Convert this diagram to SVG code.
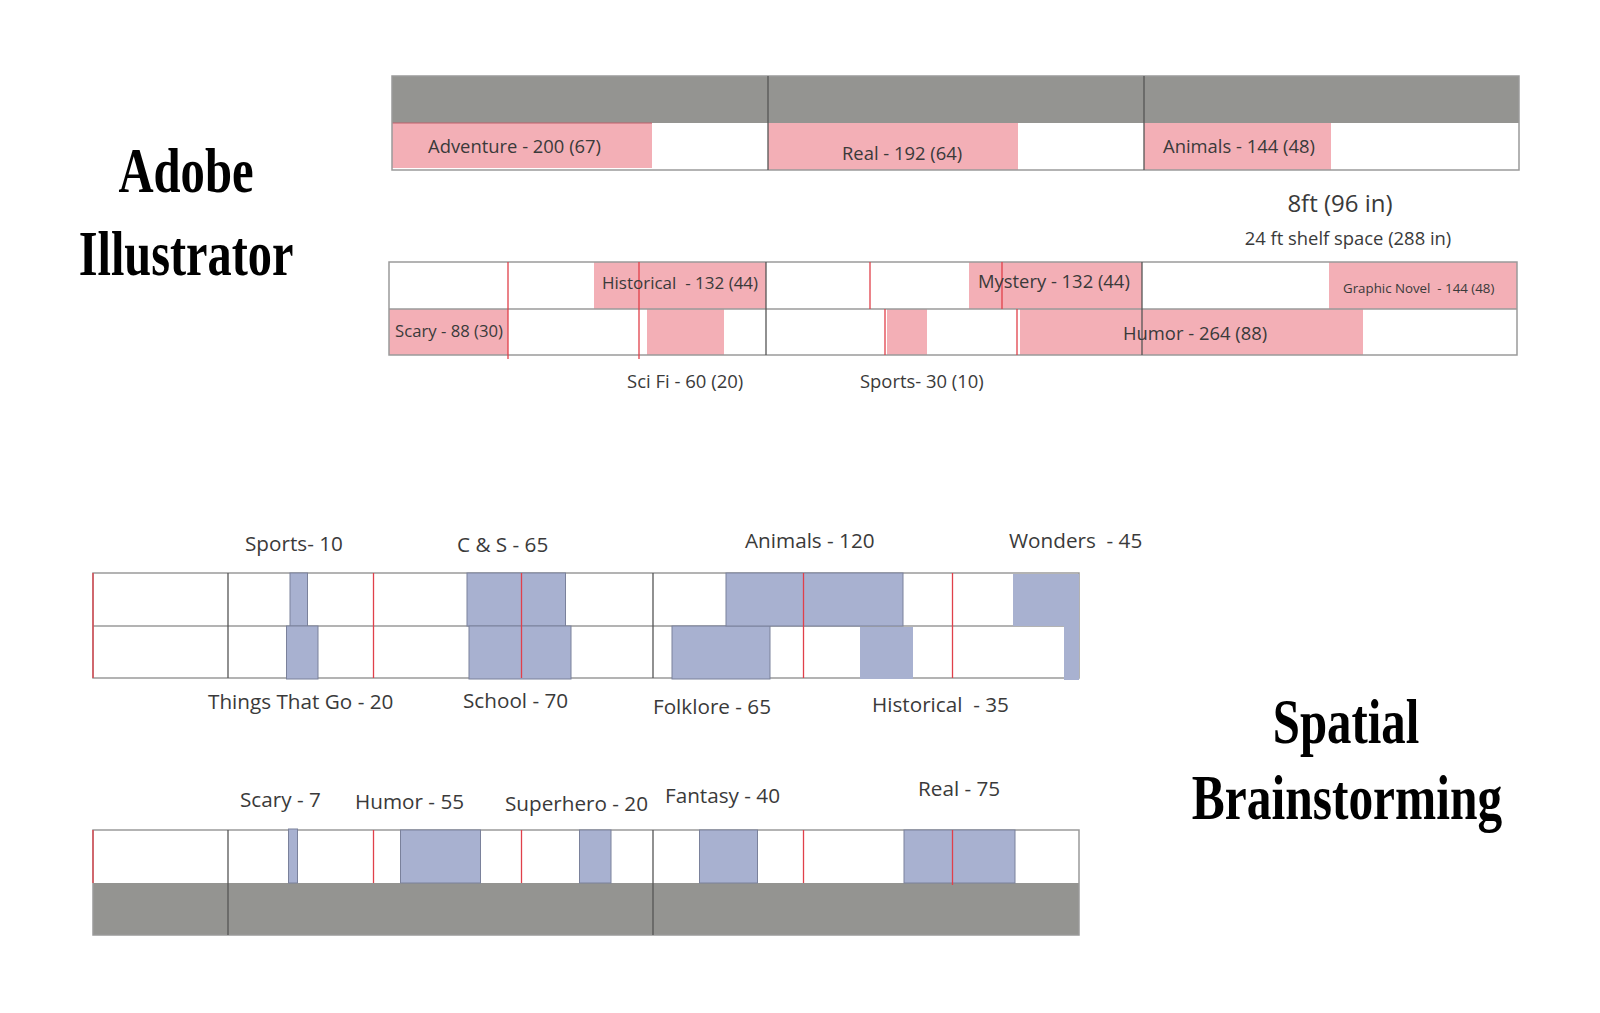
<svg xmlns="http://www.w3.org/2000/svg" width="1600" height="1013" viewBox="0 0 1600 1013">
<style>
.lbl{font-family:"Open Sans","Noto Sans",sans-serif;fill:#3a3a3a;white-space:pre}
.t18{font-size:18.4px}
.b21{font-size:20.7px}
.title{font-family:"Liberation Serif",serif;font-weight:bold;font-size:64px;fill:#000;text-anchor:middle}
.pink{fill:#f3afb6}
.blue{fill:#a8b1d0}
.blueS{fill:#a8b1d0;stroke:#7a819b;stroke-width:1}
.gray{fill:#949491}
.frame{fill:none;stroke:#9a9a9a;stroke-width:1.5}
.div{stroke:#555;stroke-width:1.3}
.red{stroke:#e0404a;stroke-width:1.3}
.hl{stroke:#9a9a9a;stroke-width:1.5}
</style>
<rect width="1600" height="1013" fill="#fff"/>

<g id="title-adobe">
<text class="title" transform="matrix(0.76 0 0 1 186 192)">Adobe</text>
<text class="title" transform="matrix(0.755 0 0 1 186 275)">Illustrator</text>
</g>
<g id="title-spatial">
<text class="title" transform="matrix(0.775 0 0 1 1346 743)" style="font-size:63px">Spatial</text>
<text class="title" transform="matrix(0.785 0 0 1 1347 819)" style="font-size:63px">Brainstorming</text>
</g>

<!-- Top shelf (Adobe) -->
<g id="shelf-ai-1">
<rect x="392" y="76" width="1127" height="94" fill="#fff"/>
<rect class="gray" x="392" y="76" width="1127" height="47"/>
<rect id="ai-adventure" class="pink" x="392" y="123" width="260" height="45"/>
<rect id="ai-real" class="pink" x="768" y="123" width="250" height="47"/>
<rect id="ai-animals" class="pink" x="1144" y="123" width="187" height="47"/>
<line x1="392" y1="123" x2="652" y2="123" stroke="#c0606a" stroke-width="1"/>
<rect class="frame" x="392" y="76" width="1127" height="94"/>
<line class="div" x1="768" y1="76" x2="768" y2="170"/>
<line class="div" x1="1144" y1="76" x2="1144" y2="170"/>
<text class="lbl t18" x="428" y="153">Adventure - 200 (67)</text>
<text class="lbl t18" x="842" y="160">Real - 192 (64)</text>
<text class="lbl t18" x="1163" y="153">Animals - 144 (48)</text>
</g>

<g id="dimensions">
<text class="lbl" x="1340" y="212" text-anchor="middle" style="font-size:24px">8ft (96 in)</text>
<text class="lbl t18" x="1348" y="245" text-anchor="middle">24 ft shelf space (288 in)</text>
</g>

<g id="shelf-ai-2">
<rect x="389" y="262" width="1128" height="93" fill="#fff"/>
<rect id="ai-historical" class="pink" x="594" y="262" width="172" height="47"/>
<rect id="ai-mystery" class="pink" x="969" y="262" width="173" height="47"/>
<rect id="ai-graphic" class="pink" x="1329" y="262" width="188" height="47"/>
<rect id="ai-scary" class="pink" x="389" y="309" width="119" height="46"/>
<rect id="ai-scifi" class="pink" x="647" y="309" width="77" height="46"/>
<rect id="ai-sports" class="pink" x="887" y="309" width="40" height="46"/>
<rect id="ai-humor" class="pink" x="1020" y="309" width="343" height="46"/>
<rect class="frame" x="389" y="262" width="1128" height="93"/>
<line class="hl" x1="389" y1="309" x2="1517" y2="309"/>
<line class="div" x1="766" y1="262" x2="766" y2="355"/>
<line class="div" x1="1142" y1="262" x2="1142" y2="355"/>
<line class="red" x1="508" y1="262" x2="508" y2="359"/>
<line class="red" x1="639" y1="262" x2="639" y2="359"/>
<line class="red" x1="870" y1="262" x2="870" y2="309"/>
<line class="red" x1="1002" y1="262" x2="1002" y2="309"/>
<line class="red" x1="885" y1="309" x2="885" y2="355"/>
<line class="red" x1="1017" y1="309" x2="1017" y2="355"/>
<text class="lbl" x="602" y="289" style="font-size:17px">Historical  - 132 (44)</text>
<text class="lbl t18" x="978" y="288">Mystery - 132 (44)</text>
<text class="lbl" x="1343" y="293" style="font-size:13.3px">Graphic Novel  - 144 (48)</text>
<text class="lbl" x="395" y="337" style="font-size:16.7px">Scary - 88 (30)</text>
<text class="lbl t18" x="1123" y="340">Humor - 264 (88)</text>
<text class="lbl" x="627" y="388" style="font-size:18.5px">Sci Fi - 60 (20)</text>
<text class="lbl t18" x="860" y="388">Sports- 30 (10)</text>
</g>

<!-- Spatial shelf A -->
<g id="shelf-sp-1">
<rect x="93" y="573" width="986" height="105" fill="#fff"/>
<rect class="frame" x="93" y="573" width="986" height="105"/>
<line class="hl" x1="93" y1="626" x2="1079" y2="626"/>
<line class="div" x1="228" y1="573" x2="228" y2="678"/>
<line class="div" x1="653" y1="573" x2="653" y2="678"/>
<rect id="sp-sports" class="blueS" x="290" y="573" width="17.5" height="53"/>
<rect id="sp-things" class="blueS" x="286.5" y="626" width="31.5" height="53"/>
<rect id="sp-cs" class="blueS" x="467" y="573" width="98.5" height="53"/>
<rect id="sp-school" class="blueS" x="469" y="626" width="102" height="53"/>
<rect id="sp-folklore" class="blueS" x="672" y="626" width="98" height="53"/>
<rect id="sp-animals" class="blueS" x="726" y="573" width="177" height="53"/>
<rect id="sp-historical" class="blue" x="860" y="627" width="53" height="52"/>
<rect id="sp-wonders" class="blue" x="1013" y="574" width="66" height="52"/>
<rect class="blue" x="1064" y="626" width="15" height="54"/>
<line class="red" x1="93" y1="573" x2="93" y2="678"/>
<line class="red" x1="373.5" y1="573" x2="373.5" y2="678"/>
<line class="red" x1="521.5" y1="573" x2="521.5" y2="678"/>
<line class="red" x1="803.5" y1="573" x2="803.5" y2="678"/>
<line class="red" x1="952.5" y1="573" x2="952.5" y2="678"/>
<text class="lbl b21" x="245" y="551">Sports- 10</text>
<text class="lbl b21" x="457" y="552">C &amp; S - 65</text>
<text class="lbl b21" x="745" y="548">Animals - 120</text>
<text class="lbl b21" x="1009" y="548">Wonders  - 45</text>
<text class="lbl b21" x="208" y="709">Things That Go - 20</text>
<text class="lbl b21" x="463" y="708">School - 70</text>
<text class="lbl b21" x="653" y="714">Folklore - 65</text>
<text class="lbl b21" x="872" y="712">Historical  - 35</text>
</g>

<!-- Spatial shelf B -->
<g id="shelf-sp-2">
<rect x="93" y="830" width="986" height="53" fill="#fff"/>
<rect class="gray" x="93" y="883" width="986" height="52"/>
<rect class="frame" x="93" y="830" width="986" height="105"/>
<line class="div" x1="228" y1="830" x2="228" y2="935"/>
<line class="div" x1="653" y1="830" x2="653" y2="935"/>
<rect id="sp-scary" class="blueS" x="288.5" y="829" width="9" height="54"/>
<rect id="sp-humor" class="blueS" x="400.5" y="830" width="80" height="53"/>
<rect id="sp-superhero" class="blueS" x="579.5" y="830" width="31.5" height="53"/>
<rect id="sp-fantasy" class="blueS" x="699.5" y="830" width="58" height="53"/>
<rect id="sp-real" class="blueS" x="904" y="830" width="111" height="53"/>
<line class="red" x1="93" y1="830" x2="93" y2="883"/>
<line class="red" x1="373.5" y1="830" x2="373.5" y2="883"/>
<line class="red" x1="521.5" y1="830" x2="521.5" y2="883"/>
<line class="red" x1="803.5" y1="830" x2="803.5" y2="883"/>
<line class="red" x1="952.5" y1="830" x2="952.5" y2="885"/>
<text class="lbl b21" x="240" y="807">Scary - 7</text>
<text class="lbl b21" x="355" y="809">Humor - 55</text>
<text class="lbl b21" x="505" y="811">Superhero - 20</text>
<text class="lbl b21" x="665" y="803">Fantasy - 40</text>
<text class="lbl b21" x="918" y="796">Real - 75</text>
</g>
</svg>
